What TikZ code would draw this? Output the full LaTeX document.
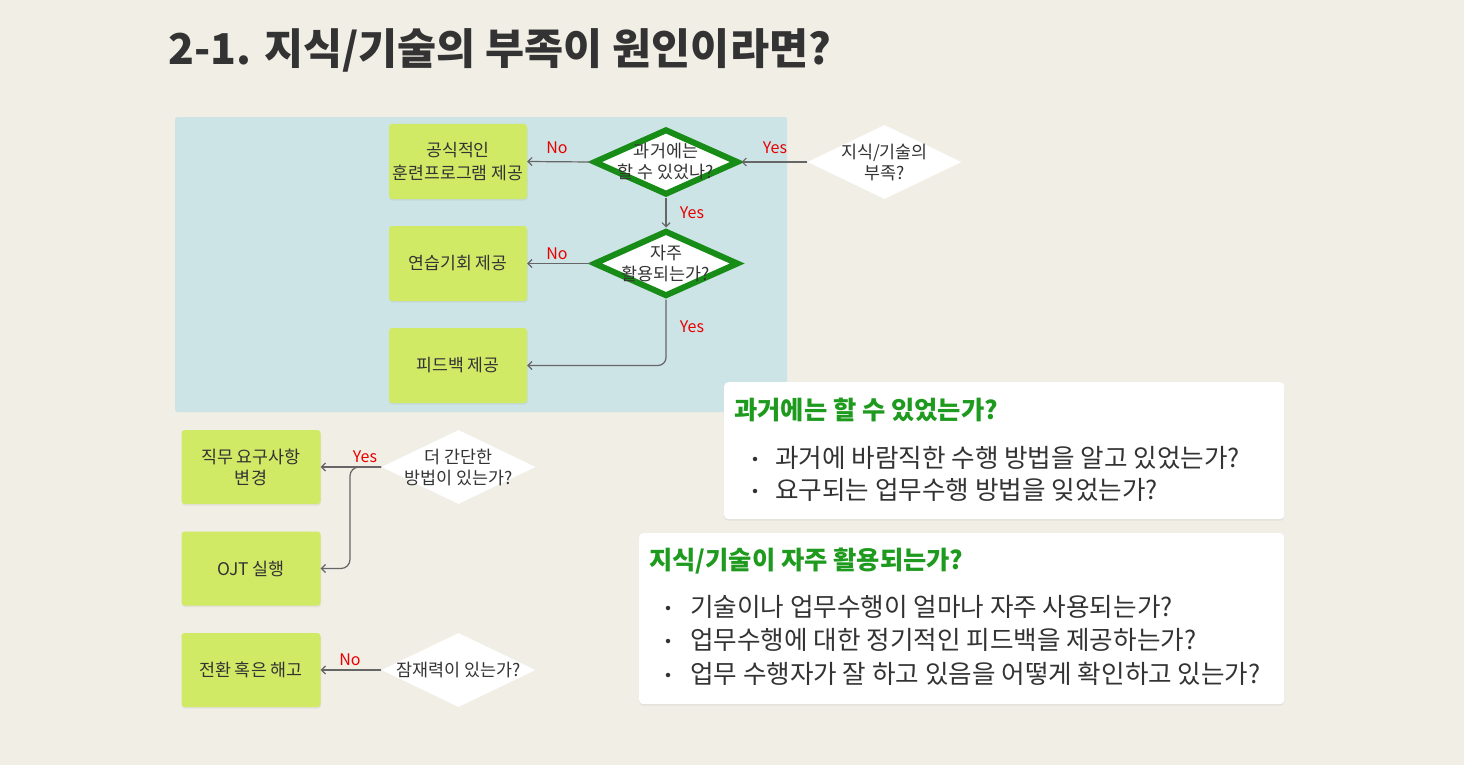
\documentclass[tikz,border=0pt]{standalone}
\usepackage{fontspec}
\setmainfont{Noto Sans CJK KR}
\usetikzlibrary{shapes.geometric,arrows.meta,shadows}
\definecolor{bg}{HTML}{F1EEE6}
\definecolor{panel}{HTML}{CDE4E6}
\definecolor{boxgreen}{HTML}{D1EA66}
\definecolor{dgreen}{HTML}{178C17}
\definecolor{tgreen}{HTML}{1E9A1E}
\definecolor{txt}{HTML}{333333}
\definecolor{arrgray}{HTML}{666666}
\definecolor{lblred}{HTML}{E80000}
\begin{document}
\begin{tikzpicture}[x=1pt,y=-1pt,
  gbox/.style={fill=boxgreen, rounded corners=3pt, minimum width=138pt, minimum height=75pt, inner sep=0pt,
    align=center, text=txt, font=\fontsize{17.2}{23}\selectfont,
    drop shadow={opacity=0.12, shadow xshift=0.5pt, shadow yshift=-1.5pt}},
  gdia/.style={diamond, draw=dgreen, line width=6pt, fill=white, minimum width=145pt, minimum height=66pt, inner sep=0pt, aspect=2.2},
  wdia/.style={diamond, fill=white, minimum width=154pt, minimum height=74pt, inner sep=0pt, aspect=2.1},
  dtext/.style={align=center, text=txt, font=\fontsize{17.4}{21}\selectfont, inner sep=0pt},
  lab/.style={text=lblred, font=\fontsize{16}{18}\selectfont, inner sep=0pt},
  arr/.style={draw=arrgray, line width=1.2pt, -{Straight Barb[length=4pt,width=8pt]}},
  tbox/.style={fill=white, rounded corners=4pt, inner sep=0pt, anchor=north west,
    drop shadow={opacity=0.12, shadow xshift=0pt, shadow yshift=-1.5pt}},
  ttitle/.style={anchor=west, inner sep=0pt, text=tgreen, font=\bfseries\fontsize{25.3}{29}\selectfont},
  tbody/.style={anchor=west, inner sep=0pt, text=txt, font=\fontsize{25.6}{29}\selectfont},
  tdot/.style={circle, fill=txt, inner sep=0pt, minimum size=4.5pt}
]
\useasboundingbox[fill=bg] (0,0) rectangle (1464,765);

% title
\node[anchor=base west, inner sep=0pt, text=txt, font=\bfseries\fontsize{42.5}{48}\selectfont] (title) at (168,65) {2-1. 지식/기술의 부족이 원인이라면?};

% blue panel
\node[fill=panel, anchor=north west, minimum width=612pt, minimum height=295pt, inner sep=0pt, rounded corners=2pt] (panel) at (175,117) {};

% top flowchart boxes
\node[gbox] (b1) at (458,161.5) {공식적인\\훈련프로그램 제공};
\node[gbox] (b2) at (458,263.5) {연습기회 제공};
\node[gbox] (b3) at (458,365.5) {피드백 제공};

\node[gdia] (d1) at (666,162) {};
\node[dtext] (d1t) at (666,161.5) {과거에는\\할 수 있었나?};
\node[gdia] (d2) at (666,263.5) {};
\node[dtext] (d2t) at (666,263) {자주\\활용되는가?};
\node[wdia] (d3) at (884.5,162) {};
\node[dtext] (d3t) at (884.5,162) {지식/기술의\\부족?};

\draw[arr] (d3.west) -- (d1.east);
\draw[arr] (d1.west) -- (b1.east);
\draw[arr] (d1.south) -- (d2.north);
\draw[arr] (d2.west) -- (b2.east);
\draw[arr, rounded corners=8pt] (d2.south) |- (b3.east);

\node[lab] (l1) at (775,148) {Yes};
\node[lab] (l2) at (557,148) {No};
\node[lab] (l3) at (692,213) {Yes};
\node[lab] (l4) at (557,254) {No};
\node[lab] (l5) at (692,327) {Yes};

% bottom-left flowchart
\node[gbox, minimum width=139pt, minimum height=74pt, font=\fontsize{17.4}{21}\selectfont] (b4) at (251,467) {직무 요구사항\\변경};
\node[gbox, minimum width=139pt, minimum height=74pt, font=\fontsize{17.4}{21}\selectfont] (b5) at (251,568.5) {OJT 실행};
\node[gbox, minimum width=139pt, minimum height=74pt, font=\fontsize{17.4}{21}\selectfont] (b6) at (251,670) {전환 혹은 해고};

\node[wdia] (d4) at (458.5,467) {};
\node[dtext] (d4t) at (458.5,467) {더 간단한\\방법이 있는가?};
\node[wdia] (d5) at (458.5,670) {};
\node[dtext] (d5t) at (458.5,670) {잠재력이 있는가?};

\coordinate (jn) at (350,467);
\draw[arr] (d4.west) -- (b4.east);
\draw[arr, rounded corners=9pt] (d4.west) -- (jn) |- (b5.east);
\draw[arr] (d5.west) -- (b6.east);

\node[lab] (l6) at (365,457) {Yes};
\node[lab] (l7) at (350,660) {No};

% text box A
\node[tbox, minimum width=560pt, minimum height=137pt] (ta) at (724,382) {};
\node[ttitle] (tat) at (734,410) {과거에는 할 수 있었는가?};
\node[tdot] (tad1) at (755,459) {};
\node[tbody] (ta1) at (775,458) {과거에 바람직한 수행 방법을 알고 있었는가?};
\node[tdot] (tad2) at (755,491) {};
\node[tbody] (ta2) at (775,490) {요구되는 업무수행 방법을 잊었는가?};

% text box B
\node[tbox, minimum width=645pt, minimum height=171pt] (tb) at (639,533) {};
\node[ttitle] (tbt) at (649,561) {지식/기술이 자주 활용되는가?};
\node[tdot] (tbd1) at (668,608) {};
\node[tbody] (tb1) at (690,607) {기술이나 업무수행이 얼마나 자주 사용되는가?};
\node[tdot] (tbd2) at (668,641) {};
\node[tbody] (tb2) at (690,640) {업무수행에 대한 정기적인 피드백을 제공하는가?};
\node[tdot] (tbd3) at (668,675) {};
\node[tbody] (tb3) at (690,674) {업무 수행자가 잘 하고 있음을 어떻게 확인하고 있는가?};
\end{tikzpicture}
\end{document}
